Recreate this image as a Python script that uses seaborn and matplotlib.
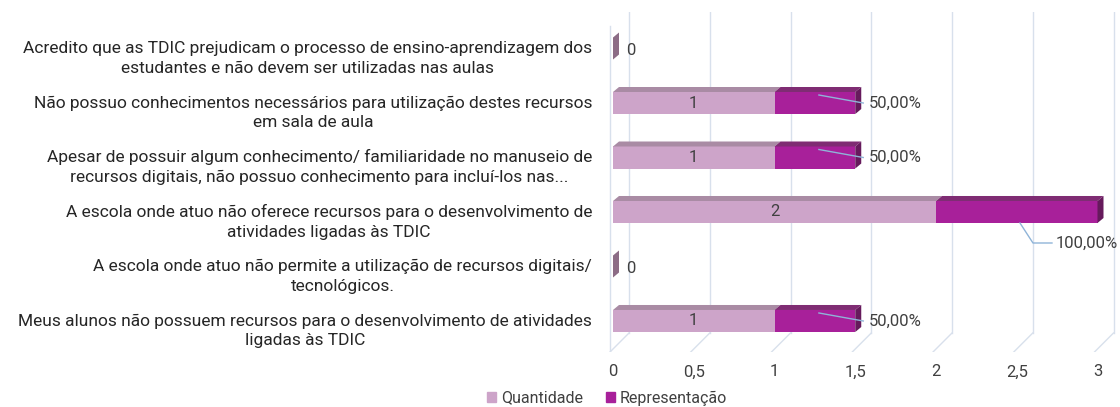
import numpy as np
import pandas as pd
from matplotlib import pyplot as plt
from matplotlib.patches import Patch
from matplotlib.transforms import ScaledTranslation
import seaborn as sns

plt.rcParams['font.family'] = ['Roboto', 'DejaVu Sans']

categorias = [
    'Acredito que as TDIC prejudicam o processo de ensino-aprendizagem dos\nestudantes e não devem ser utilizadas nas aulas',
    'Não possuo conhecimentos necessários para utilização destes recursos\nem sala de aula',
    'Apesar de possuir algum conhecimento/ familiaridade no manuseio de\nrecursos digitais, não possuo conhecimento para incluí-los nas...',
    'A escola onde atuo não oferece recursos para o desenvolvimento de\natividades ligadas às TDIC',
    'A escola onde atuo não permite a utilização de recursos digitais/\ntecnológicos.',
    'Meus alunos não possuem recursos para o desenvolvimento de atividades\nligadas às TDIC',
]
quantidade = [0, 1, 1, 2, 0, 1]
representacao = [0, 0.5, 0.5, 1.0, 0, 0.5]
rep_labels = ['0', '50,00%', '50,00%', '100,00%', '0', '50,00%']
x_ticks = [0, 0.5, 1, 1.5, 2, 2.5, 3]
x_ticklabels = ['0', '0,5', '1', '1,5', '2', '2,5', '3']

df = pd.DataFrame({'cat': categorias, 'quantidade': quantidade, 'representacao': representacao})
df['total'] = df['quantidade'] + df['representacao']

c_qtd = '#cda4c9'
c_qtd_top = '#a98ba4'
c_rep = '#a8209a'
c_rep_top = '#7f2c73'
c_rep_side = '#661a5c'
c_zero = '#8c6c86'
c_grid = '#d8e0ec'
c_lead = '#8fb4d8'
c_txt = '#404040'

fig = plt.figure(figsize=(11.2, 4.07), dpi=100)
ax = fig.add_axes([608/1120, 55/407, (1116-608)/1120, 340/407])

px = 1/161.5   # data units per pixel (x)
py = 1/54.5    # data units per pixel (y)
ymax, ymin = 5.569, -0.67
h = 0.404

# back wall grid + floor
for v in x_ticks:
    ax.plot([v + 16*px, v + 16*px], [ymax - 19*py, ymin], color=c_grid, lw=1, zorder=0)
    ax.plot([v - 3*px, v + 16*px], [ymax, ymax - 19*py], color=c_grid, lw=1, zorder=0)
ax.plot([-3*px, -3*px], [ymax, ymin + 14*py], color=c_grid, lw=1, zorder=0)

sns.barplot(data=df, x='total', y='cat', orient='h', color=c_rep, saturation=1,
            width=h, ax=ax, zorder=2)
sns.barplot(data=df, x='quantidade', y='cat', orient='h', color=c_qtd, saturation=1,
            width=h, ax=ax, zorder=3)

dx, dy = 6*px, 5*py
for i, row in df.iterrows():
    top = i - h/2
    q, t = row['quantidade'], row['total']
    if t == 0:
        ax.fill([0, dx, dx, 0], [top, top - dy, top + h - dy, top + h], color=c_zero, zorder=4, lw=0)
        ax.text(13*px, i + 2*py, rep_labels[i], ha='left', va='center', color=c_txt, fontsize=12)
        continue
    ax.fill([0, q, q + dx, dx], [top, top, top - dy, top - dy], color=c_qtd_top, zorder=4, lw=0)
    ax.fill([q, t, t + dx, q + dx], [top, top, top - dy, top - dy], color=c_rep_top, zorder=4, lw=0)
    ax.fill([t, t + dx, t + dx, t], [top, top - dy, top + h - dy, top + h], color=c_rep_side, zorder=4, lw=0)
    ax.text(q/2, i, f'{q:g}', ha='center', va='center', color=c_txt, fontsize=12, zorder=5)
    r = row['representacao']
    if t >= x_ticks[-1]:
        x0, y0 = q + r*0.52, i + h/2
        ax.plot([x0, x0 + 13*px, x0 + 32*px], [y0, i + 31*py, i + 31*py], color=c_lead, lw=1, zorder=5)
        ax.text(x0 + 36*px, i + 31*py, rep_labels[i], ha='left', va='center', color=c_txt, fontsize=12)
    else:
        ax.plot([q + r*0.55, t + 8*px], [i - 8*py, i], color=c_lead, lw=1, zorder=5)
        ax.text(t + 14*px, i, rep_labels[i], ha='left', va='center', color=c_txt, fontsize=12)

ax.set_xlim(-5*px, 3 + 18.5*px)
ax.set_ylim(ymax, ymin)
ax.set_xticks(x_ticks)
ax.set_xticklabels(x_ticklabels)
ax.set_xlabel('')
ax.set_ylabel('')
ax.tick_params(axis='x', length=0, pad=9, labelsize=12, labelcolor=c_txt)
ax.tick_params(axis='y', length=0, pad=11.5, labelsize=12.5, labelcolor='#262626')
for lab in ax.get_yticklabels():
    lab.set_multialignment('center')
    lab.set_linespacing(1.4)
    lab.set_transform(lab.get_transform() + ScaledTranslation(0, -6/100, fig.dpi_scale_trans))
for s in ax.spines.values():
    s.set_visible(False)
ax.set_facecolor('none')

handles = [Patch(color=c_qtd), Patch(color=c_rep)]
fig.legend(handles, ['Quantidade', 'Representação'], loc='center', bbox_to_anchor=(607/1120, 9/407),
           ncol=2, frameon=False, handlelength=0.6, handleheight=0.6, columnspacing=1.4,
           handletextpad=0.3, fontsize=11.5, labelcolor=c_txt)

fig.savefig('out.png', dpi=100)
